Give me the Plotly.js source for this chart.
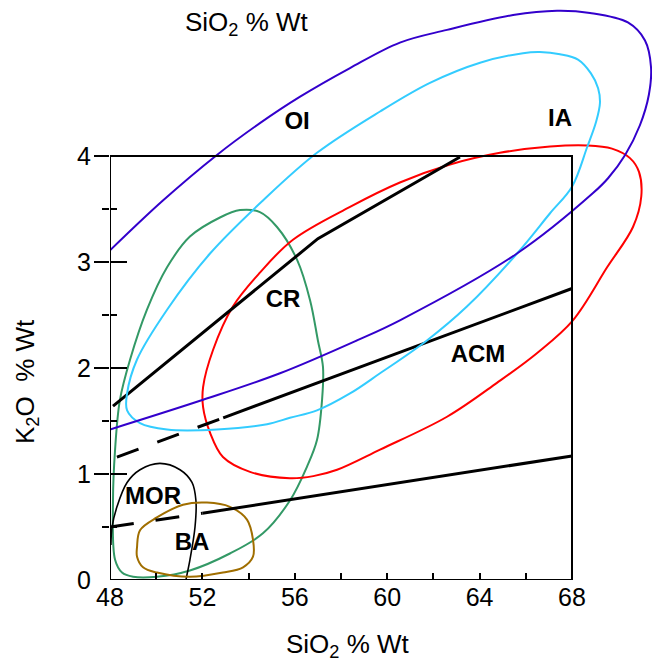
<!DOCTYPE html>
<html>
<head>
<meta charset="utf-8">
<script src="https://cdn.plot.ly/plotly-3.0.1.min.js"></script>
<style>html,body{margin:0;padding:0;background:#fff;}#chart{width:652px;height:666px;}</style>
</head>
<body>
<div id="chart"></div>
<script>
// ---- Field outlines (SiO2 wt%, K2O wt%) ----
const oiX = [48.0, 50.29, 52.63, 54.49, 56.23, 58.39, 60.55, 62.59, 65.45, 67.35, 68.78, 70.42, 71.16, 71.42, 71.33, 70.94, 70.30, 69.56, 68.91, 65.62, 60.55, 58.69, 55.36, 52.03, 48.0];
const oiY = [3.11, 3.58, 4.01, 4.31, 4.56, 4.83, 5.07, 5.19, 5.33, 5.37, 5.35, 5.26, 5.09, 4.84, 4.58, 4.29, 4.01, 3.79, 3.65, 3.08, 2.45, 2.26, 1.95, 1.70, 1.42];

const iaX = [48.74, 48.74, 49.30, 50.47, 52.63, 54.80, 55.79, 56.96, 58.39, 59.69, 61.72, 63.45, 65.62, 67.05, 68.0, 68.65, 69.04, 69.21, 69.13, 68.82, 68.26, 67.48, 66.61, 65.88, 64.02, 61.85, 59.69, 56.96, 54.62, 52.33, 50.47, 49.17, 48.74];
const iaY = [1.76, 1.60, 1.48, 1.42, 1.42, 1.47, 1.53, 1.60, 1.76, 1.95, 2.26, 2.58, 3.08, 3.46, 3.71, 4.08, 4.32, 4.50, 4.64, 4.78, 4.91, 4.96, 4.98, 4.97, 4.88, 4.69, 4.42, 4.03, 3.58, 3.08, 2.55, 2.08, 1.76];

const crX = [53.63, 54.49, 55.23, 56.10, 56.66, 57.0, 57.22, 57.18, 56.96, 56.53, 55.79, 54.62, 53.19, 51.46, 50.03, 49.0, 48.52, 48.22, 48.13, 48.22, 48.43, 48.87, 49.60, 50.47, 51.46, 52.76, 53.63];
const crY = [3.49, 3.47, 3.33, 3.02, 2.64, 2.26, 2.01, 1.70, 1.32, 1.07, 0.75, 0.44, 0.25, 0.09, 0.03, 0.03, 0.07, 0.19, 0.75, 1.23, 1.70, 2.08, 2.55, 2.95, 3.24, 3.42, 3.49];

const acmX = [52.03, 52.03, 52.33, 52.89, 54.06, 55.79, 56.80, 57.83, 59.69, 62.59, 64.75, 66.48, 68.04, 69.52, 70.64, 71.00, 70.90, 70.51, 69.73, 68.65, 67.05, 64.88, 62.72, 60.55, 58.39, 55.92, 54.49, 53.32, 52.46, 52.03];
const acmY = [1.82, 1.63, 1.39, 1.16, 1.02, 0.96, 0.98, 1.04, 1.23, 1.54, 1.86, 2.14, 2.45, 2.95, 3.33, 3.62, 3.85, 3.98, 4.07, 4.10, 4.09, 4.03, 3.92, 3.75, 3.52, 3.21, 2.90, 2.58, 2.17, 1.82];

const morX = [48.04, 48.09, 48.30, 48.74, 49.30, 50.16, 51.03, 51.55, 51.72, 51.68, 51.46, 51.29, 51.25];
const morY = [0.33, 0.50, 0.69, 0.92, 1.04, 1.10, 1.04, 0.92, 0.75, 0.50, 0.19, 0.0, -0.07];

const baX = [49.17, 49.30, 50.03, 51.16, 52.20, 53.19, 53.93, 54.19, 54.19, 53.76, 52.89, 51.46, 50.03, 49.43, 49.17, 49.17];
const baY = [0.31, 0.47, 0.59, 0.71, 0.73, 0.69, 0.57, 0.38, 0.22, 0.12, 0.07, 0.03, 0.07, 0.12, 0.22, 0.31];

// ---- Discriminant lines ----
const upperX = [48.13, 57.0, 63.15];
const upperY = [1.64, 3.22, 3.99];
const midDashX = [48.3, 52.9];
const midDashY = [1.16, 1.53];
const midSolidX = [52.9, 68.0];
const midSolidY = [1.53, 2.75];
const lowDashX = [48.0, 52.0];
const lowDashY = [0.50, 0.63];
const lowSolidX = [52.0, 68.0];
const lowSolidY = [0.63, 1.17];

// ---- Field labels ----
const labelText = ['OI', 'IA', 'CR', 'ACM', 'MOR', 'BA'];
const labelX = [56.1, 67.48, 55.49, 63.93, 49.86, 51.55];
const labelY = [4.31, 4.34, 2.63, 2.11, 0.77, 0.34];

// ---- Axis ticks ----
const xTickVals = [48, 52, 56, 60, 64, 68];
const xMinorVals = [50, 54, 58, 62, 66];
const yTickVals = [0, 1, 2, 3, 4];
const yMajorVals = [1, 2, 3, 4];
const yMinorVals = [0.5, 1.5, 2.5, 3.5];

const FONT = 'Liberation Sans, Arial, Helvetica, sans-serif';
const XR = [48, 48 + 542 / 23.1];
const YR = [0, 580 / 106];

function curve(x, y, color, width, yaxis) {
  return {x: x, y: y, type: 'scatter', mode: 'lines', yaxis: yaxis || 'y',
    line: {color: color, width: width, shape: 'spline', smoothing: 1},
    hoverinfo: 'skip', showlegend: false};
}
function straight(x, y, dash) {
  return {x: x, y: y, type: 'scatter', mode: 'lines',
    line: {color: '#000000', width: 3, dash: dash || 'solid'},
    hoverinfo: 'skip', showlegend: false};
}

const traces = [
  curve(oiX, oiY, '#3300cc', 2, 'y3'),
  curve(iaX, iaY, '#33ccff', 2, 'y2'),
  curve(crX, crY, '#339966', 2),
  curve(acmX, acmY, '#ff0000', 2),
  curve(morX, morY, '#000000', 1.6),
  curve(baX, baY, '#a06e00', 2),
  straight(upperX, upperY),
  straight(midDashX, midDashY, '23px,20px'),
  straight(midSolidX, midSolidY),
  straight(lowDashX, lowDashY, '24px,22px'),
  straight(lowSolidX, lowSolidY),
  {x: labelX, y: labelY, text: labelText, type: 'scatter', mode: 'text',
   textfont: {family: FONT, size: 24, color: '#000000', weight: 'bold'},
   textposition: 'middle center', hoverinfo: 'skip', showlegend: false}
];

const baseAxis = {showgrid: false, zeroline: false, showline: false, fixedrange: true};

const layout = {
  width: 652, height: 666,
  margin: {l: 110, r: 0, t: 0, b: 86},
  paper_bgcolor: '#ffffff', plot_bgcolor: '#ffffff',
  font: {family: FONT, color: '#000000', size: 25},
  showlegend: false,
  xaxis: Object.assign({}, baseAxis, {
    range: XR, tickmode: 'array', tickvals: xTickVals, ticktext: xTickVals.map(String),
    ticks: 'inside', ticklen: 7, tickwidth: 2, tickcolor: '#000000',
    tickfont: {family: FONT, size: 25, color: '#000000'},
    minor: {tickmode: 'array', tickvals: xMinorVals, ticks: 'inside', ticklen: 7, tickwidth: 2, tickcolor: '#000000'}
  }),
  yaxis: Object.assign({}, baseAxis, {
    range: YR, tickmode: 'array', tickvals: yTickVals, ticktext: yTickVals.map(String),
    ticks: '', ticklabelstandoff: 18,
    tickfont: {family: FONT, size: 25, color: '#000000'}
  }),
  yaxis2: Object.assign({}, baseAxis, {
    range: YR, overlaying: 'y', side: 'left', anchor: 'x',
    tickmode: 'array', tickvals: yMajorVals, showticklabels: false,
    ticks: 'outside', ticklen: 15, tickwidth: 2, tickcolor: '#000000',
    minor: {tickmode: 'array', tickvals: yMinorVals, ticks: 'outside', ticklen: 7, tickwidth: 2, tickcolor: '#000000'}
  }),
  yaxis3: Object.assign({}, baseAxis, {
    range: YR, overlaying: 'y', side: 'left', anchor: 'x',
    tickmode: 'array', tickvals: yMajorVals, showticklabels: false,
    ticks: 'inside', ticklen: 17, tickwidth: 2, tickcolor: '#000000',
    minor: {tickmode: 'array', tickvals: yMinorVals, ticks: 'inside', ticklen: 7, tickwidth: 2, tickcolor: '#000000'}
  }),
  shapes: [
    {type: 'rect', xref: 'x', yref: 'y', x0: 48, x1: 68, y0: 0, y1: 4,
     line: {color: '#000000', width: 2}, fillcolor: 'rgba(0,0,0,0)', layer: 'above'}
  ],
  annotations: [
    {xref: 'paper', yref: 'paper', x: (348 - 110) / 542, y: (580 - 645) / 580,
     text: 'SiO<sub>2</sub> % Wt', showarrow: false, xanchor: 'center', yanchor: 'middle',
     font: {family: FONT, size: 26, color: '#000000'}},
    {xref: 'paper', yref: 'paper', x: (247 - 110) / 542, y: (580 - 24) / 580,
     text: 'SiO<sub>2</sub> % Wt', showarrow: false, xanchor: 'center', yanchor: 'middle',
     font: {family: FONT, size: 26, color: '#000000'}},
    {xref: 'paper', yref: 'paper', x: (26 - 110) / 542, y: (580 - 382) / 580,
     text: 'K<sub>2</sub>O\u00a0 % Wt', showarrow: false, textangle: -90, xanchor: 'center', yanchor: 'middle',
     font: {family: FONT, size: 26, color: '#000000'}}
  ]
};

Plotly.newPlot('chart', traces, layout, {staticPlot: true, displayModeBar: false});
</script>
</body>
</html>
